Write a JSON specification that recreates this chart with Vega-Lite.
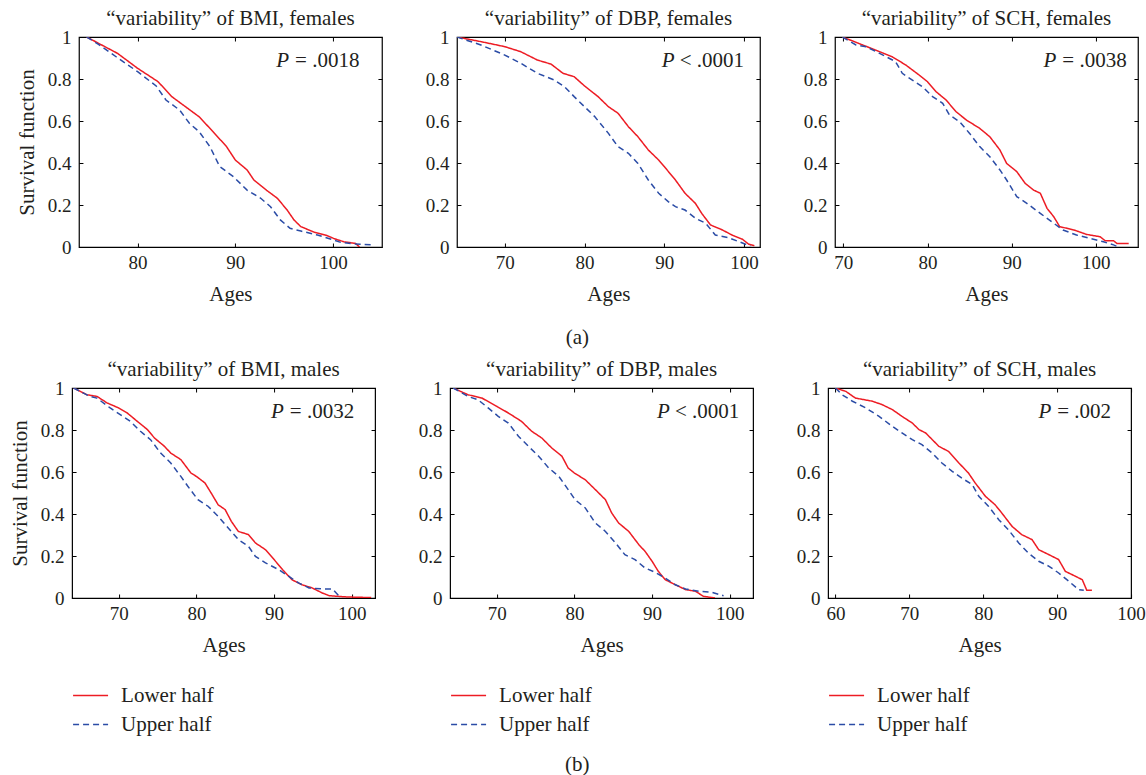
{
  "$schema": "https://vega.github.io/schema/vega-lite/v6.json",
  "padding": {"left": 8, "top": 7, "right": 3, "bottom": 0},
  "background": "white",
  "center": true,
  "spacing": 10,
  "resolve": {"scale": {"color": "independent", "strokeDash": "independent"}, "legend": {"color": "independent", "strokeDash": "independent"}},
  "datasets": {
    "bmi_f": [
      {"group":"Lower half","age":74.8,"s":1},{"group":"Lower half","age":76,"s":0.97},{"group":"Lower half","age":77.95,"s":0.922},{"group":"Lower half","age":80,"s":0.851},{"group":"Lower half","age":82.1,"s":0.787},{"group":"Lower half","age":83.5,"s":0.716},{"group":"Lower half","age":84.9,"s":0.668},{"group":"Lower half","age":86.3,"s":0.62},{"group":"Lower half","age":87.7,"s":0.55},{"group":"Lower half","age":89.1,"s":0.478},{"group":"Lower half","age":90,"s":0.414},{"group":"Lower half","age":91.2,"s":0.367},{"group":"Lower half","age":91.9,"s":0.319},{"group":"Lower half","age":93.2,"s":0.27},{"group":"Lower half","age":94.3,"s":0.232},{"group":"Lower half","age":95.3,"s":0.176},{"group":"Lower half","age":96,"s":0.129},{"group":"Lower half","age":96.7,"s":0.097},{"group":"Lower half","age":98.1,"s":0.07},{"group":"Lower half","age":99.4,"s":0.054},{"group":"Lower half","age":100.1,"s":0.04},{"group":"Lower half","age":101.1,"s":0.025},{"group":"Lower half","age":102.3,"s":0.017},{"group":"Lower half","age":102.7,"s":0},
      {"group":"Upper half","age":74.8,"s":1},{"group":"Upper half","age":76,"s":0.965},{"group":"Upper half","age":77.8,"s":0.906},{"group":"Upper half","age":80,"s":0.835},{"group":"Upper half","age":81.9,"s":0.767},{"group":"Upper half","age":82.9,"s":0.7},{"group":"Upper half","age":84.3,"s":0.652},{"group":"Upper half","age":85.3,"s":0.589},{"group":"Upper half","age":86.3,"s":0.549},{"group":"Upper half","age":87.4,"s":0.478},{"group":"Upper half","age":88.4,"s":0.383},{"group":"Upper half","age":89.8,"s":0.335},{"group":"Upper half","age":91.2,"s":0.271},{"group":"Upper half","age":92.6,"s":0.232},{"group":"Upper half","age":93.6,"s":0.192},{"group":"Upper half","age":94.6,"s":0.129},{"group":"Upper half","age":95.6,"s":0.089},{"group":"Upper half","age":96.7,"s":0.076},{"group":"Upper half","age":98.4,"s":0.057},{"group":"Upper half","age":99.8,"s":0.037},{"group":"Upper half","age":100.8,"s":0.022},{"group":"Upper half","age":102.2,"s":0.014},{"group":"Upper half","age":103.9,"s":0.011}
    ],
    "dbp_f": [
      {"group":"Lower half","age":64,"s":1},{"group":"Lower half","age":67,"s":0.978},{"group":"Lower half","age":70,"s":0.954},{"group":"Lower half","age":72,"s":0.93},{"group":"Lower half","age":74.1,"s":0.89},{"group":"Lower half","age":75.8,"s":0.871},{"group":"Lower half","age":77.3,"s":0.827},{"group":"Lower half","age":78.7,"s":0.811},{"group":"Lower half","age":80,"s":0.767},{"group":"Lower half","age":81.7,"s":0.716},{"group":"Lower half","age":83,"s":0.668},{"group":"Lower half","age":84.2,"s":0.637},{"group":"Lower half","age":85.5,"s":0.573},{"group":"Lower half","age":86.7,"s":0.525},{"group":"Lower half","age":88,"s":0.462},{"group":"Lower half","age":89.3,"s":0.414},{"group":"Lower half","age":90,"s":0.383},{"group":"Lower half","age":91.4,"s":0.319},{"group":"Lower half","age":92.6,"s":0.256},{"group":"Lower half","age":93.9,"s":0.208},{"group":"Lower half","age":94.7,"s":0.16},{"group":"Lower half","age":95.8,"s":0.105},{"group":"Lower half","age":97.3,"s":0.081},{"group":"Lower half","age":98.5,"s":0.057},{"group":"Lower half","age":99.8,"s":0.037},{"group":"Lower half","age":100.6,"s":0.013},{"group":"Lower half","age":101.3,"s":0.006},
      {"group":"Upper half","age":64,"s":1},{"group":"Upper half","age":67,"s":0.962},{"group":"Upper half","age":70,"s":0.914},{"group":"Upper half","age":72,"s":0.875},{"group":"Upper half","age":74.1,"s":0.827},{"group":"Upper half","age":76.2,"s":0.795},{"group":"Upper half","age":77.5,"s":0.763},{"group":"Upper half","age":78.7,"s":0.716},{"group":"Upper half","age":80,"s":0.668},{"group":"Upper half","age":81.3,"s":0.62},{"group":"Upper half","age":83,"s":0.541},{"group":"Upper half","age":84.2,"s":0.478},{"group":"Upper half","age":85.5,"s":0.446},{"group":"Upper half","age":86.7,"s":0.398},{"group":"Upper half","age":88,"s":0.319},{"group":"Upper half","age":89.3,"s":0.256},{"group":"Upper half","age":90.5,"s":0.216},{"group":"Upper half","age":91.4,"s":0.192},{"group":"Upper half","age":92.6,"s":0.176},{"group":"Upper half","age":93.9,"s":0.137},{"group":"Upper half","age":95.2,"s":0.113},{"group":"Upper half","age":96.4,"s":0.057},{"group":"Upper half","age":98.1,"s":0.044},{"group":"Upper half","age":99.4,"s":0.025},{"group":"Upper half","age":100.2,"s":0.013},{"group":"Upper half","age":100.8,"s":0.006}
    ],
    "sch_f": [
      {"group":"Lower half","age":69.9,"s":1},{"group":"Lower half","age":72.3,"s":0.962},{"group":"Lower half","age":74.3,"s":0.93},{"group":"Lower half","age":75.8,"s":0.906},{"group":"Lower half","age":77.4,"s":0.867},{"group":"Lower half","age":79,"s":0.819},{"group":"Lower half","age":80,"s":0.787},{"group":"Lower half","age":81,"s":0.74},{"group":"Lower half","age":82.2,"s":0.7},{"group":"Lower half","age":83.4,"s":0.644},{"group":"Lower half","age":84.6,"s":0.605},{"group":"Lower half","age":86.2,"s":0.565},{"group":"Lower half","age":87.4,"s":0.525},{"group":"Lower half","age":88.6,"s":0.462},{"group":"Lower half","age":89.4,"s":0.398},{"group":"Lower half","age":90.6,"s":0.359},{"group":"Lower half","age":91.6,"s":0.303},{"group":"Lower half","age":92.6,"s":0.271},{"group":"Lower half","age":93.4,"s":0.256},{"group":"Lower half","age":94.2,"s":0.184},{"group":"Lower half","age":95,"s":0.144},{"group":"Lower half","age":95.7,"s":0.097},{"group":"Lower half","age":97.4,"s":0.081},{"group":"Lower half","age":98.9,"s":0.06},{"group":"Lower half","age":100.5,"s":0.049},{"group":"Lower half","age":101.1,"s":0.03},{"group":"Lower half","age":102.1,"s":0.03},{"group":"Lower half","age":102.5,"s":0.017},{"group":"Lower half","age":103.9,"s":0.017},
      {"group":"Upper half","age":69.9,"s":1},{"group":"Upper half","age":71.5,"s":0.962},{"group":"Upper half","age":72.7,"s":0.954},{"group":"Upper half","age":74.3,"s":0.922},{"group":"Upper half","age":76.2,"s":0.883},{"group":"Upper half","age":77,"s":0.827},{"group":"Upper half","age":78.2,"s":0.795},{"group":"Upper half","age":79.4,"s":0.763},{"group":"Upper half","age":80.6,"s":0.716},{"group":"Upper half","age":81.8,"s":0.684},{"group":"Upper half","age":82.6,"s":0.629},{"group":"Upper half","age":83.8,"s":0.597},{"group":"Upper half","age":85,"s":0.541},{"group":"Upper half","age":86.2,"s":0.478},{"group":"Upper half","age":87.4,"s":0.43},{"group":"Upper half","age":88.6,"s":0.367},{"group":"Upper half","age":89.4,"s":0.319},{"group":"Upper half","age":90.6,"s":0.24},{"group":"Upper half","age":91.8,"s":0.208},{"group":"Upper half","age":93.4,"s":0.16},{"group":"Upper half","age":95,"s":0.113},{"group":"Upper half","age":96.1,"s":0.081},{"group":"Upper half","age":97.7,"s":0.057},{"group":"Upper half","age":99.3,"s":0.041},{"group":"Upper half","age":100.9,"s":0.025},{"group":"Upper half","age":102.1,"s":0.01},{"group":"Upper half","age":102.7,"s":0}
    ],
    "bmi_m": [
      {"group":"Lower half","age":64.2,"s":1},{"group":"Lower half","age":65.9,"s":0.968},{"group":"Lower half","age":67.2,"s":0.96},{"group":"Lower half","age":68.5,"s":0.929},{"group":"Lower half","age":70,"s":0.905},{"group":"Lower half","age":71.1,"s":0.881},{"group":"Lower half","age":72.4,"s":0.841},{"group":"Lower half","age":73.7,"s":0.802},{"group":"Lower half","age":74.6,"s":0.762},{"group":"Lower half","age":75.9,"s":0.722},{"group":"Lower half","age":76.7,"s":0.69},{"group":"Lower half","age":78,"s":0.659},{"group":"Lower half","age":79.3,"s":0.595},{"group":"Lower half","age":80,"s":0.579},{"group":"Lower half","age":81.1,"s":0.548},{"group":"Lower half","age":81.9,"s":0.5},{"group":"Lower half","age":82.8,"s":0.444},{"group":"Lower half","age":83.7,"s":0.421},{"group":"Lower half","age":84.5,"s":0.365},{"group":"Lower half","age":85.4,"s":0.317},{"group":"Lower half","age":86.7,"s":0.302},{"group":"Lower half","age":87.6,"s":0.262},{"group":"Lower half","age":88.9,"s":0.23},{"group":"Lower half","age":90,"s":0.183},{"group":"Lower half","age":91.1,"s":0.135},{"group":"Lower half","age":92.3,"s":0.087},{"group":"Lower half","age":93.6,"s":0.063},{"group":"Lower half","age":94.9,"s":0.048},{"group":"Lower half","age":96.2,"s":0.024},{"group":"Lower half","age":97.1,"s":0.011},{"group":"Lower half","age":99.3,"s":0.005},{"group":"Lower half","age":102.5,"s":0.002},
      {"group":"Upper half","age":64.2,"s":1},{"group":"Upper half","age":66.3,"s":0.96},{"group":"Upper half","age":67.2,"s":0.952},{"group":"Upper half","age":68.9,"s":0.905},{"group":"Upper half","age":70.2,"s":0.873},{"group":"Upper half","age":71.5,"s":0.841},{"group":"Upper half","age":72.8,"s":0.794},{"group":"Upper half","age":74.1,"s":0.754},{"group":"Upper half","age":75.4,"s":0.69},{"group":"Upper half","age":76.7,"s":0.643},{"group":"Upper half","age":78,"s":0.579},{"group":"Upper half","age":78.9,"s":0.532},{"group":"Upper half","age":80.2,"s":0.468},{"group":"Upper half","age":81.5,"s":0.437},{"group":"Upper half","age":82.8,"s":0.389},{"group":"Upper half","age":84.1,"s":0.333},{"group":"Upper half","age":85.4,"s":0.278},{"group":"Upper half","age":86.7,"s":0.246},{"group":"Upper half","age":87.6,"s":0.198},{"group":"Upper half","age":88.9,"s":0.167},{"group":"Upper half","age":90.6,"s":0.135},{"group":"Upper half","age":91.9,"s":0.103},{"group":"Upper half","age":93.2,"s":0.071},{"group":"Upper half","age":94.5,"s":0.048},{"group":"Upper half","age":96.2,"s":0.043},{"group":"Upper half","age":97.5,"s":0.043},{"group":"Upper half","age":98,"s":0.024},{"group":"Upper half","age":98.4,"s":0.008}
    ],
    "dbp_m": [
      {"group":"Lower half","age":64.4,"s":1},{"group":"Lower half","age":66.3,"s":0.968},{"group":"Lower half","age":68.1,"s":0.952},{"group":"Lower half","age":70,"s":0.913},{"group":"Lower half","age":71.5,"s":0.881},{"group":"Lower half","age":73.2,"s":0.841},{"group":"Lower half","age":74.5,"s":0.794},{"group":"Lower half","age":75.8,"s":0.762},{"group":"Lower half","age":77.1,"s":0.714},{"group":"Lower half","age":78.4,"s":0.675},{"group":"Lower half","age":79.2,"s":0.619},{"group":"Lower half","age":80,"s":0.595},{"group":"Lower half","age":81.4,"s":0.563},{"group":"Lower half","age":82.7,"s":0.516},{"group":"Lower half","age":84,"s":0.468},{"group":"Lower half","age":84.8,"s":0.405},{"group":"Lower half","age":85.7,"s":0.357},{"group":"Lower half","age":87,"s":0.317},{"group":"Lower half","age":88.3,"s":0.254},{"group":"Lower half","age":89.1,"s":0.222},{"group":"Lower half","age":90,"s":0.175},{"group":"Lower half","age":90.8,"s":0.127},{"group":"Lower half","age":91.7,"s":0.087},{"group":"Lower half","age":93,"s":0.063},{"group":"Lower half","age":94.3,"s":0.04},{"group":"Lower half","age":95.6,"s":0.032},{"group":"Lower half","age":96.6,"s":0.008},{"group":"Lower half","age":98.1,"s":0},
      {"group":"Upper half","age":64.4,"s":1},{"group":"Upper half","age":66.3,"s":0.96},{"group":"Upper half","age":67.6,"s":0.944},{"group":"Upper half","age":68.9,"s":0.905},{"group":"Upper half","age":70.2,"s":0.865},{"group":"Upper half","age":71.5,"s":0.833},{"group":"Upper half","age":72.8,"s":0.77},{"group":"Upper half","age":74.1,"s":0.722},{"group":"Upper half","age":75.4,"s":0.675},{"group":"Upper half","age":76.7,"s":0.619},{"group":"Upper half","age":78,"s":0.579},{"group":"Upper half","age":79.2,"s":0.516},{"group":"Upper half","age":80.1,"s":0.468},{"group":"Upper half","age":81.4,"s":0.429},{"group":"Upper half","age":82.7,"s":0.357},{"group":"Upper half","age":84,"s":0.317},{"group":"Upper half","age":85.3,"s":0.262},{"group":"Upper half","age":86.5,"s":0.206},{"group":"Upper half","age":87.8,"s":0.183},{"group":"Upper half","age":89.1,"s":0.143},{"group":"Upper half","age":90.4,"s":0.122},{"group":"Upper half","age":91.7,"s":0.095},{"group":"Upper half","age":93,"s":0.063},{"group":"Upper half","age":94.3,"s":0.043},{"group":"Upper half","age":96,"s":0.032},{"group":"Upper half","age":97.7,"s":0.027},{"group":"Upper half","age":99.2,"s":0.011}
    ],
    "sch_m": [
      {"group":"Lower half","age":60,"s":1},{"group":"Lower half","age":61.4,"s":0.984},{"group":"Lower half","age":62.7,"s":0.952},{"group":"Lower half","age":65,"s":0.937},{"group":"Lower half","age":66.3,"s":0.921},{"group":"Lower half","age":67.7,"s":0.897},{"group":"Lower half","age":69,"s":0.865},{"group":"Lower half","age":70.4,"s":0.833},{"group":"Lower half","age":71.3,"s":0.802},{"group":"Lower half","age":72.2,"s":0.786},{"group":"Lower half","age":73.1,"s":0.754},{"group":"Lower half","age":74,"s":0.722},{"group":"Lower half","age":75.3,"s":0.698},{"group":"Lower half","age":76.7,"s":0.643},{"group":"Lower half","age":78,"s":0.595},{"group":"Lower half","age":78.9,"s":0.548},{"group":"Lower half","age":80.3,"s":0.484},{"group":"Lower half","age":81.6,"s":0.444},{"group":"Lower half","age":82.5,"s":0.405},{"group":"Lower half","age":83.9,"s":0.341},{"group":"Lower half","age":85.2,"s":0.302},{"group":"Lower half","age":86.6,"s":0.278},{"group":"Lower half","age":87.5,"s":0.23},{"group":"Lower half","age":88.9,"s":0.206},{"group":"Lower half","age":90.2,"s":0.183},{"group":"Lower half","age":91.1,"s":0.127},{"group":"Lower half","age":92.5,"s":0.103},{"group":"Lower half","age":93.4,"s":0.087},{"group":"Lower half","age":94,"s":0.037},{"group":"Lower half","age":94.7,"s":0.037},
      {"group":"Upper half","age":60,"s":1},{"group":"Upper half","age":60.9,"s":0.968},{"group":"Upper half","age":62.3,"s":0.937},{"group":"Upper half","age":64.1,"s":0.905},{"group":"Upper half","age":65.9,"s":0.865},{"group":"Upper half","age":67.7,"s":0.817},{"group":"Upper half","age":69,"s":0.786},{"group":"Upper half","age":70.4,"s":0.754},{"group":"Upper half","age":71.7,"s":0.73},{"group":"Upper half","age":73.1,"s":0.69},{"group":"Upper half","age":74.4,"s":0.643},{"group":"Upper half","age":75.8,"s":0.603},{"group":"Upper half","age":77.1,"s":0.571},{"group":"Upper half","age":78.5,"s":0.54},{"group":"Upper half","age":79.4,"s":0.484},{"group":"Upper half","age":80.7,"s":0.437},{"group":"Upper half","age":82.1,"s":0.373},{"group":"Upper half","age":83.4,"s":0.325},{"group":"Upper half","age":84.8,"s":0.262},{"group":"Upper half","age":86.1,"s":0.214},{"group":"Upper half","age":87.5,"s":0.175},{"group":"Upper half","age":88.9,"s":0.151},{"group":"Upper half","age":90.2,"s":0.119},{"group":"Upper half","age":91.6,"s":0.079},{"group":"Upper half","age":92.9,"s":0.04},{"group":"Upper half","age":93.6,"s":0.037}
    ]
  },
  "vconcat": [
    {
      "title": {"text": "(a)", "orient": "bottom", "anchor": "middle", "frame": "bounds", "offset": 22},
      "spacing": 40,
      "resolve": {"scale": {"color": "independent", "strokeDash": "independent"}, "legend": {"color": "independent", "strokeDash": "independent"}},
      "hconcat": [
        {
          "width": 303, "height": 210,
          "title": "“variability” of BMI, females",
          "layer": [
            {"data": {"name": "bmi_f"}, "mark": {"type": "line", "strokeWidth": 1.5, "clip": true},
             "encoding": {
               "x": {"field": "age", "type": "quantitative", "scale": {"domain": [74, 105], "nice": false, "zero": false}, "axis": {"values": [80, 90, 100], "title": "Ages"}},
               "y": {"field": "s", "type": "quantitative", "scale": {"domain": [0, 1], "nice": false}, "axis": {"values": [0, 0.2, 0.4, 0.6, 0.8, 1], "format": "~g", "title": "Survival function"}},
               "color": {"field": "group", "type": "nominal", "scale": {"domain": ["Lower half", "Upper half"], "range": ["#ed1c24", "#2b4ca6"]}, "legend": null},
               "strokeDash": {"field": "group", "type": "nominal", "scale": {"domain": ["Lower half", "Upper half"], "range": [[1, 0], [6, 4]]}, "legend": null}}},
            {"data": {"values": [{"sym": "P", "rest": "= .0018"}]}, "mark": {"type": "text", "fontStyle": "italic", "align": "right", "baseline": "middle", "fontSize": 21},
             "encoding": {"text": {"field": "sym"},
               "x": {"datum": 95.5, "axis": {"orient": "top", "values": [80, 90, 100], "labels": false, "title": null}},
               "y": {"datum": 0.885, "axis": {"orient": "right", "values": [0, 0.2, 0.4, 0.6, 0.8, 1], "labels": false, "title": null}}}},
            {"data": {"values": [{"sym": "P", "rest": "= .0018"}]}, "mark": {"type": "text", "align": "left", "baseline": "middle", "dx": 6, "fontSize": 21},
             "encoding": {"text": {"field": "rest"}, "x": {"datum": 95.5, "axis": null}, "y": {"datum": 0.885, "axis": null}}}
          ],
          "resolve": {"axis": {"x": "independent", "y": "independent"}}
        },
        {
          "width": 303, "height": 210,
          "title": "“variability” of DBP, females",
          "layer": [
            {"data": {"name": "dbp_f"}, "mark": {"type": "line", "strokeWidth": 1.5, "clip": true},
             "encoding": {
               "x": {"field": "age", "type": "quantitative", "scale": {"domain": [64, 102], "nice": false, "zero": false}, "axis": {"values": [70, 80, 90, 100], "title": "Ages"}},
               "y": {"field": "s", "type": "quantitative", "scale": {"domain": [0, 1], "nice": false}, "axis": {"values": [0, 0.2, 0.4, 0.6, 0.8, 1], "format": "~g", "title": null}},
               "color": {"field": "group", "type": "nominal", "scale": {"domain": ["Lower half", "Upper half"], "range": ["#ed1c24", "#2b4ca6"]}, "legend": null},
               "strokeDash": {"field": "group", "type": "nominal", "scale": {"domain": ["Lower half", "Upper half"], "range": [[1, 0], [6, 4]]}, "legend": null}}},
            {"data": {"values": [{"sym": "P", "rest": "< .0001"}]}, "mark": {"type": "text", "fontStyle": "italic", "align": "right", "baseline": "middle", "fontSize": 21},
             "encoding": {"text": {"field": "sym"},
               "x": {"datum": 91.3, "axis": {"orient": "top", "values": [70, 80, 90, 100], "labels": false, "title": null}},
               "y": {"datum": 0.885, "axis": {"orient": "right", "values": [0, 0.2, 0.4, 0.6, 0.8, 1], "labels": false, "title": null}}}},
            {"data": {"values": [{"sym": "P", "rest": "< .0001"}]}, "mark": {"type": "text", "align": "left", "baseline": "middle", "dx": 5, "fontSize": 21},
             "encoding": {"text": {"field": "rest"}, "x": {"datum": 91.3, "axis": null}, "y": {"datum": 0.885, "axis": null}}}
          ],
          "resolve": {"axis": {"x": "independent", "y": "independent"}}
        },
        {
          "width": 303, "height": 210,
          "title": "“variability” of SCH, females",
          "layer": [
            {"data": {"name": "sch_f"}, "mark": {"type": "line", "strokeWidth": 1.5, "clip": true},
             "encoding": {
               "x": {"field": "age", "type": "quantitative", "scale": {"domain": [69, 105], "nice": false, "zero": false}, "axis": {"values": [70, 80, 90, 100], "title": "Ages"}},
               "y": {"field": "s", "type": "quantitative", "scale": {"domain": [0, 1], "nice": false}, "axis": {"values": [0, 0.2, 0.4, 0.6, 0.8, 1], "format": "~g", "title": null}},
               "color": {"field": "group", "type": "nominal", "scale": {"domain": ["Lower half", "Upper half"], "range": ["#ed1c24", "#2b4ca6"]}, "legend": null},
               "strokeDash": {"field": "group", "type": "nominal", "scale": {"domain": ["Lower half", "Upper half"], "range": [[1, 0], [6, 4]]}, "legend": null}}},
            {"data": {"values": [{"sym": "P", "rest": "= .0038"}]}, "mark": {"type": "text", "fontStyle": "italic", "align": "right", "baseline": "middle", "fontSize": 21},
             "encoding": {"text": {"field": "sym"},
               "x": {"datum": 95.3, "axis": {"orient": "top", "values": [70, 80, 90, 100], "labels": false, "title": null}},
               "y": {"datum": 0.885, "axis": {"orient": "right", "values": [0, 0.2, 0.4, 0.6, 0.8, 1], "labels": false, "title": null}}}},
            {"data": {"values": [{"sym": "P", "rest": "= .0038"}]}, "mark": {"type": "text", "align": "left", "baseline": "middle", "dx": 6, "fontSize": 21},
             "encoding": {"text": {"field": "rest"}, "x": {"datum": 95.3, "axis": null}, "y": {"datum": 0.885, "axis": null}}}
          ],
          "resolve": {"axis": {"x": "independent", "y": "independent"}}
        }
      ]
    },
    {
      "title": {"text": "(b)", "orient": "bottom", "anchor": "middle", "frame": "bounds", "offset": 18},
      "spacing": 40,
      "resolve": {"scale": {"color": "independent", "strokeDash": "independent"}, "legend": {"color": "independent", "strokeDash": "independent"}},
      "hconcat": [
        {
          "width": 303, "height": 210,
          "title": "“variability” of BMI, males",
          "layer": [
            {"data": {"name": "bmi_m"}, "mark": {"type": "line", "strokeWidth": 1.5, "clip": true},
             "encoding": {
               "x": {"field": "age", "type": "quantitative", "scale": {"domain": [64, 103], "nice": false, "zero": false}, "axis": {"values": [70, 80, 90, 100], "title": "Ages"}},
               "y": {"field": "s", "type": "quantitative", "scale": {"domain": [0, 1], "nice": false}, "axis": {"values": [0, 0.2, 0.4, 0.6, 0.8, 1], "format": "~g", "title": "Survival function"}},
               "color": {"field": "group", "type": "nominal", "scale": {"domain": ["Lower half", "Upper half"], "range": ["#ed1c24", "#2b4ca6"]}, "legend": {"title": null}},
               "strokeDash": {"field": "group", "type": "nominal", "scale": {"domain": ["Lower half", "Upper half"], "range": [[1, 0], [6, 4]]}, "legend": {"title": null}}}},
            {"data": {"values": [{"sym": "P", "rest": "= .0032"}]}, "mark": {"type": "text", "fontStyle": "italic", "align": "right", "baseline": "middle", "fontSize": 21},
             "encoding": {"text": {"field": "sym"},
               "x": {"datum": 91.25, "axis": {"orient": "top", "values": [70, 80, 90, 100], "labels": false, "title": null}},
               "y": {"datum": 0.885, "axis": {"orient": "right", "values": [0, 0.2, 0.4, 0.6, 0.8, 1], "labels": false, "title": null}}}},
            {"data": {"values": [{"sym": "P", "rest": "= .0032"}]}, "mark": {"type": "text", "align": "left", "baseline": "middle", "dx": 6, "fontSize": 21},
             "encoding": {"text": {"field": "rest"}, "x": {"datum": 91.25, "axis": null}, "y": {"datum": 0.885, "axis": null}}}
          ],
          "resolve": {"axis": {"x": "independent", "y": "independent"}}
        },
        {
          "width": 303, "height": 210,
          "title": "“variability” of DBP, males",
          "layer": [
            {"data": {"name": "dbp_m"}, "mark": {"type": "line", "strokeWidth": 1.5, "clip": true},
             "encoding": {
               "x": {"field": "age", "type": "quantitative", "scale": {"domain": [64, 103], "nice": false, "zero": false}, "axis": {"values": [70, 80, 90, 100], "title": "Ages"}},
               "y": {"field": "s", "type": "quantitative", "scale": {"domain": [0, 1], "nice": false}, "axis": {"values": [0, 0.2, 0.4, 0.6, 0.8, 1], "format": "~g", "title": null}},
               "color": {"field": "group", "type": "nominal", "scale": {"domain": ["Lower half", "Upper half"], "range": ["#ed1c24", "#2b4ca6"]}, "legend": {"title": null}},
               "strokeDash": {"field": "group", "type": "nominal", "scale": {"domain": ["Lower half", "Upper half"], "range": [[1, 0], [6, 4]]}, "legend": {"title": null}}}},
            {"data": {"values": [{"sym": "P", "rest": "< .0001"}]}, "mark": {"type": "text", "fontStyle": "italic", "align": "right", "baseline": "middle", "fontSize": 21},
             "encoding": {"text": {"field": "sym"},
               "x": {"datum": 92.3, "axis": {"orient": "top", "values": [70, 80, 90, 100], "labels": false, "title": null}},
               "y": {"datum": 0.885, "axis": {"orient": "right", "values": [0, 0.2, 0.4, 0.6, 0.8, 1], "labels": false, "title": null}}}},
            {"data": {"values": [{"sym": "P", "rest": "< .0001"}]}, "mark": {"type": "text", "align": "left", "baseline": "middle", "dx": 5, "fontSize": 21},
             "encoding": {"text": {"field": "rest"}, "x": {"datum": 92.3, "axis": null}, "y": {"datum": 0.885, "axis": null}}}
          ],
          "resolve": {"axis": {"x": "independent", "y": "independent"}}
        },
        {
          "width": 303, "height": 210,
          "title": "“variability” of SCH, males",
          "layer": [
            {"data": {"name": "sch_m"}, "mark": {"type": "line", "strokeWidth": 1.5, "clip": true},
             "encoding": {
               "x": {"field": "age", "type": "quantitative", "scale": {"domain": [59, 100], "nice": false, "zero": false}, "axis": {"values": [60, 70, 80, 90, 100], "title": "Ages"}},
               "y": {"field": "s", "type": "quantitative", "scale": {"domain": [0, 1], "nice": false}, "axis": {"values": [0, 0.2, 0.4, 0.6, 0.8, 1], "format": "~g", "title": null}},
               "color": {"field": "group", "type": "nominal", "scale": {"domain": ["Lower half", "Upper half"], "range": ["#ed1c24", "#2b4ca6"]}, "legend": {"title": null}},
               "strokeDash": {"field": "group", "type": "nominal", "scale": {"domain": ["Lower half", "Upper half"], "range": [[1, 0], [6, 4]]}, "legend": {"title": null}}}},
            {"data": {"values": [{"sym": "P", "rest": "= .002"}]}, "mark": {"type": "text", "fontStyle": "italic", "align": "right", "baseline": "middle", "fontSize": 21},
             "encoding": {"text": {"field": "sym"},
               "x": {"datum": 89.2, "axis": {"orient": "top", "values": [60, 70, 80, 90, 100], "labels": false, "title": null}},
               "y": {"datum": 0.885, "axis": {"orient": "right", "values": [0, 0.2, 0.4, 0.6, 0.8, 1], "labels": false, "title": null}}}},
            {"data": {"values": [{"sym": "P", "rest": "= .002"}]}, "mark": {"type": "text", "align": "left", "baseline": "middle", "dx": 6, "fontSize": 21},
             "encoding": {"text": {"field": "rest"}, "x": {"datum": 89.2, "axis": null}, "y": {"datum": 0.885, "axis": null}}}
          ],
          "resolve": {"axis": {"x": "independent", "y": "independent"}}
        }
      ]
    }
  ],
  "config": {
    "font": "Liberation Serif",
    "view": {"stroke": "#000000", "strokeWidth": 1.2},
    "text": {"font": "Liberation Serif", "color": "#231f20"},
    "title": {"font": "Liberation Serif", "fontSize": 21, "fontWeight": "normal", "color": "#231f20", "frame": "group", "offset": -1},
    "axis": {
      "domain": false, "grid": false, "ticks": true, "tickSize": -4, "tickColor": "#000000", "tickWidth": 1,
      "labelFont": "Liberation Serif", "labelFontSize": 19, "labelColor": "#231f20", "labelFlush": false,
      "titleFont": "Liberation Serif", "titleFontSize": 21, "titleFontWeight": "normal", "titleColor": "#231f20"
    },
    "axisX": {"labelPadding": 10, "titlePadding": 11},
    "axisY": {"labelPadding": 12, "titlePadding": 10},
    "legend": {
      "orient": "bottom", "direction": "vertical", "symbolType": "stroke", "symbolSize": 1225, "symbolStrokeWidth": 1.5,
      "labelFont": "Liberation Serif", "labelFontSize": 21, "labelColor": "#231f20", "labelOffset": 12, "rowPadding": -16, "offset": 22, "padding": 0
    }
  }
}
